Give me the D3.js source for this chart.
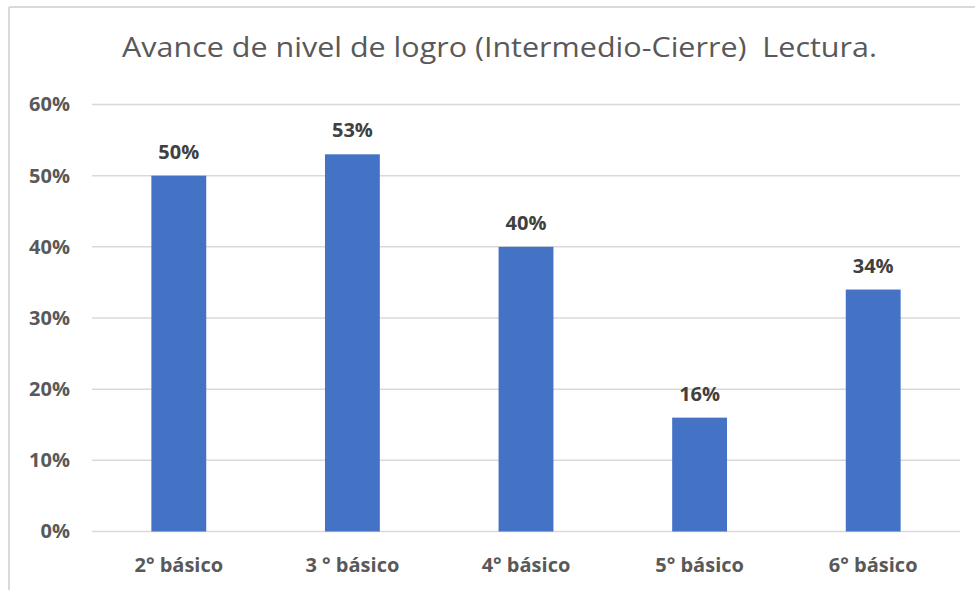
<!DOCTYPE html>
<html>
<head>
<meta charset="utf-8">
<script src="https://cdn.jsdelivr.net/npm/d3@7"></script>
<style>
  html, body { margin: 0; padding: 0; background: #fff; }
  svg { display: block; font-family: "Open Sans", "Noto Sans", sans-serif; }
</style>
</head>
<body>
<svg id="chart" width="975" height="590"></svg>
<script>
const title = "Avance de nivel de logro (Intermedio-Cierre)  Lectura.";
const categories = ["2° básico", "3 ° básico", "4° básico", "5° básico", "6° básico"];
const values = [0.50, 0.53, 0.40, 0.16, 0.34];
const yTicks = [0, 0.1, 0.2, 0.3, 0.4, 0.5, 0.6];

const svg = d3.select("#chart");
const W = 975, H = 590;
const plot = { left: 92, right: 960, top: 104.5, bottom: 531.5 };

// chart border (top and left visible)
svg.append("line").attr("x1", 9).attr("x2", W).attr("y1", 7).attr("y2", 7)
  .attr("stroke", "#d9d9d9").attr("stroke-width", 2);
svg.append("line").attr("x1", 9).attr("x2", 9).attr("y1", 7).attr("y2", H)
  .attr("stroke", "#d9d9d9").attr("stroke-width", 2);

const x = d3.scaleBand().domain(categories).range([plot.left, plot.right]).padding(0);
const y = d3.scaleLinear().domain([0, 0.6]).range([plot.bottom, plot.top]);
const barW = x.bandwidth() * 0.316;

// gridlines
svg.append("g").selectAll("line").data(yTicks).join("line")
  .attr("x1", plot.left).attr("x2", plot.right)
  .attr("y1", d => y(d)).attr("y2", d => y(d))
  .attr("stroke", "#d9d9d9").attr("stroke-width", 1.5);

// y axis labels
const yAxis = d3.axisLeft(y).tickValues(yTicks).tickFormat(d3.format(".0%")).tickSize(0).tickPadding(0);
const yg = svg.append("g").attr("transform", `translate(70,0)`).call(yAxis);
yg.select(".domain").remove();
yg.selectAll("text").attr("fill", "#595959").attr("font-size", 20).attr("font-weight", "bold")
  .attr("font-family", "'Open Sans', sans-serif");

// x axis labels
const xAxis = d3.axisBottom(x).tickSize(0).tickPadding(0);
const xg = svg.append("g").attr("transform", `translate(0,${plot.bottom})`).call(xAxis);
xg.select(".domain").remove();
xg.selectAll("text").attr("fill", "#595959").attr("font-size", 20).attr("font-weight", "bold")
  .attr("font-family", "'Open Sans', sans-serif").attr("dy", null).attr("y", 40);

// bars
svg.append("g").selectAll("rect").data(values).join("rect")
  .attr("x", (d, i) => x(categories[i]) + x.bandwidth() / 2 - barW / 2)
  .attr("width", barW)
  .attr("y", d => y(d))
  .attr("height", d => y(0) - y(d))
  .attr("fill", "#4472c4");

// data labels
svg.append("g").selectAll("text").data(values).join("text")
  .attr("x", (d, i) => x(categories[i]) + x.bandwidth() / 2)
  .attr("y", d => y(d) - 17)
  .attr("text-anchor", "middle")
  .attr("fill", "#404040").attr("font-size", 20).attr("font-weight", "bold")
  .text(d => d3.format(".0%")(d));

// title
svg.append("text")
  .attr("x", 499.5).attr("y", 57)
  .attr("text-anchor", "middle")
  .attr("fill", "#595959").attr("font-size", 27)
  .attr("textLength", 755).attr("lengthAdjust", "spacingAndGlyphs")
  .style("white-space", "pre")
  .text(title);
</script>
</body>
</html>
